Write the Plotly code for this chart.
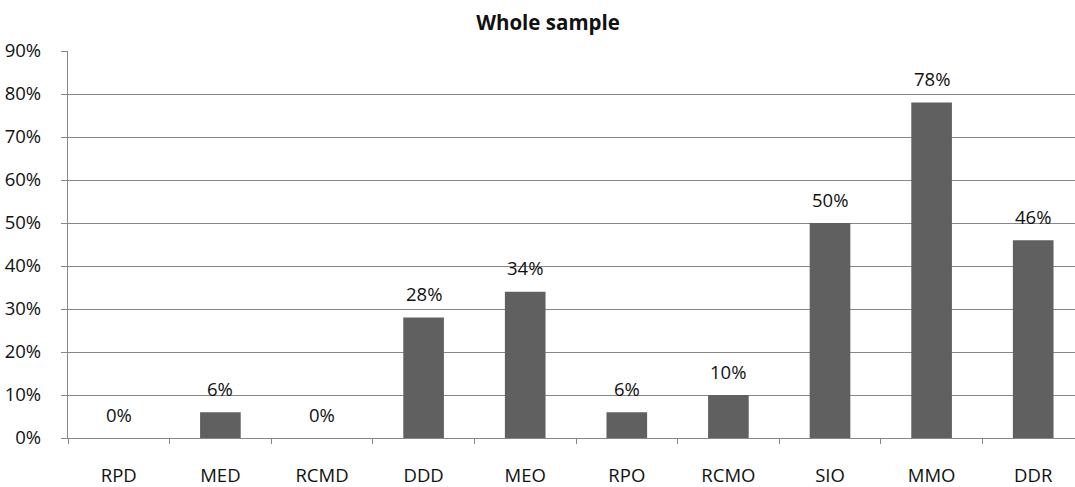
import plotly.graph_objects as go

categories = ["RPD", "MED", "RCMD", "DDD", "MEO", "RPO", "RCMO", "SIO", "MMO", "DDR"]
shares = [0.00, 0.06, 0.00, 0.28, 0.34, 0.06, 0.10, 0.50, 0.78, 0.46]
y_ticks = [0.0, 0.1, 0.2, 0.3, 0.4, 0.5, 0.6, 0.7, 0.8, 0.9]
y_tick_labels = ["0%", "10%", "20%", "30%", "40%", "50%", "60%", "70%", "80%", "90%"]
title_text = "Whole sample"

FONT = "Open Sans"
GRID = "#878787"
BAR = "#606060"
TXT = "#111111"

fig = go.Figure()
fig.add_trace(go.Bar(
    x=categories,
    y=shares,
    width=0.4,
    marker=dict(color=BAR, line=dict(width=0)),
    hoverinfo="skip",
))

# value labels sitting above each bar
for cat, val in zip(categories, shares):
    fig.add_annotation(
        x=cat, y=val, xref="x", yref="y",
        text=f"{round(val * 100)}%",
        showarrow=False, yanchor="middle", yshift=24,
        font=dict(family=FONT, size=18.5, color=TXT),
    )

fig.update_layout(
    width=1075, height=487,
    margin=dict(l=68, r=0, t=51, b=46),
    paper_bgcolor="white", plot_bgcolor="white",
    showlegend=False,
    bargap=0.6,
    title=dict(
        text=f"<b>{title_text}</b>",
        x=548 / 1075, xref="container", xanchor="center",
        y=1 - 23 / 487, yref="container", yanchor="middle",
        font=dict(family=FONT, size=20.5, color=TXT),
    ),
)

fig.update_xaxes(
    type="category",
    range=[-0.5, -0.5 + 1007 / 101.6],
    tickson="boundaries",
    ticks="outside", ticklen=5, tickcolor=GRID, tickwidth=1.3,
    showline=True, linecolor=GRID, linewidth=1.3,
    showgrid=False, zeroline=False,
    ticklabelstandoff=21,
    tickfont=dict(family=FONT, size=18.5, color=TXT),
)

fig.update_yaxes(
    range=[0, 0.9],
    tickvals=y_ticks, ticktext=y_tick_labels,
    ticks="outside", ticklen=6, tickcolor=GRID, tickwidth=1.3,
    showline=True, linecolor=GRID, linewidth=1.3,
    showgrid=True, gridcolor=GRID, gridwidth=1.3,
    zeroline=False,
    ticklabelstandoff=16,
    tickfont=dict(family=FONT, size=18.5, color=TXT),
)

fig.write_html("out.html")
